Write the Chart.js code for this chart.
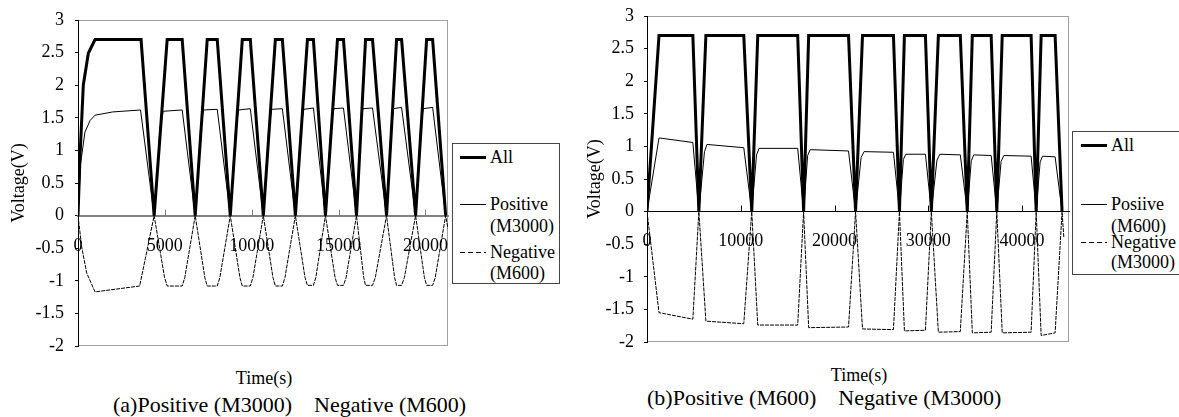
<!DOCTYPE html>
<html>
<head>
<meta charset="utf-8">
<script src="https://cdn.jsdelivr.net/npm/chart.js@4.4.0/dist/chart.umd.min.js"></script>
<style>
  body { margin: 0; background: #fff; width: 1179px; height: 417px; position: relative; overflow: hidden;
         font-family: 'Liberation Serif', 'Times New Roman', serif; color: #000; }
  canvas { position: absolute; top: 0; }
  .txt { position: absolute; white-space: pre; line-height: 20px; font-size: 18px; }
  .legend { position: absolute; border: 1px solid #444; background: #fff; box-sizing: border-box; }
  .sample { position: absolute; width: 26px; background: #000; }
  .dash { position: absolute; width: 26px; height: 1px;
          background: repeating-linear-gradient(to right, #000 0 5px, transparent 5px 8px); }
  .cap { position: absolute; white-space: pre; font-size: 22px; line-height: 24px; }
</style>
</head>
<body>
<canvas id="chartA" width="460" height="360" style="left:0"></canvas>
<canvas id="chartB" width="500" height="360" style="left:580px"></canvas>

<div class="legend" style="left:452px;top:143px;width:108px;height:141px">
  <div class="sample" style="left:7px;top:12px;height:3px"></div>
  <div class="txt" style="left:37px;top:3px">All</div>
  <div class="sample" style="left:7px;top:60px;height:1px"></div>
  <div class="txt" style="left:37px;top:50px">Positive</div>
  <div class="txt" style="left:37px;top:72px">(M3000)</div>
  <div class="dash" style="left:7px;top:108px"></div>
  <div class="txt" style="left:37px;top:98px">Negative</div>
  <div class="txt" style="left:37px;top:119px">(M600)</div>
</div>

<div class="legend" style="left:1072px;top:131px;width:120px;height:144px">
  <div class="sample" style="left:8px;top:12px;height:3px"></div>
  <div class="txt" style="left:38px;top:3px">All</div>
  <div class="sample" style="left:8px;top:72px;height:1px"></div>
  <div class="txt" style="left:38px;top:62px">Posiive</div>
  <div class="txt" style="left:38px;top:84px">(M600)</div>
  <div class="dash" style="left:8px;top:110px"></div>
  <div class="txt" style="left:38px;top:100px">Negative</div>
  <div class="txt" style="left:38px;top:120px">(M3000)</div>
</div>

<div class="txt" style="left:264px;top:378px;transform:translate(-50%,-50%)">Time(s)</div>
<div class="txt" style="left:859px;top:375px;transform:translate(-50%,-50%)">Time(s)</div>
<div class="cap" style="left:113px;top:393px">(a)Positive (M3000)    Negative (M600)</div>
<div class="cap" style="left:647px;top:386px">(b)Positive (M600)    Negative (M3000)</div>

<script>
// ---- panel (a): Positive (M3000) / Negative (M600) ----
const timeAllA = [0, 115, 305, 595, 980, 3630, 4383, 5133, 5998, 6747, 7439, 8016, 8766, 9458, 9919, 10669,
  11361, 11765, 12514, 13207, 13552, 14245, 14937, 15283, 16032, 16552, 16955, 17762, 18339, 18628, 19435,
  20069, 20415, 21165];
const allA = [0, 0.9, 2.0, 2.49, 2.7, 2.7, 0, 2.7, 2.7, 0, 2.7, 2.7, 0, 2.7, 2.7, 0,
  2.7, 2.7, 0, 2.7, 2.7, 0, 2.7, 2.7, 0, 2.7, 2.7, 0, 2.7, 2.7, 0,
  2.7, 2.7, 0];

const timePosA = [0, 150, 400, 700, 980, 2000, 3600, 4383, 4720, 4908, 5998, 6747, 7058, 7231, 8016, 8766,
  9077, 9250, 9919, 10669, 10980, 11153, 11765, 12514, 12826, 12999, 13552, 14245, 14556, 14729, 15283, 16032,
  16266, 16396, 16955, 17762, 18022, 18166, 18628, 19435, 19720, 19879, 20415, 21165];
const posA = [0, 0.8, 1.28, 1.46, 1.54, 1.59, 1.62, 0, 1.35, 1.6, 1.62, 0, 1.35, 1.62, 1.63, 0,
  1.35, 1.62, 1.64, 0, 1.35, 1.63, 1.64, 0, 1.35, 1.63, 1.65, 0, 1.35, 1.64, 1.65, 0,
  1.35, 1.64, 1.65, 0, 1.35, 1.64, 1.66, 0, 1.35, 1.64, 1.66, 0];

const timeNegA = [0, 212, 500, 980, 3550, 4383, 4983, 5133, 5998, 6148, 6747, 7301, 7439, 8016, 8166, 8766,
  9320, 9458, 9919, 10069, 10669, 11223, 11361, 11765, 11915, 12514, 13068, 13207, 13552, 13691, 14245,
  14799, 14937, 15283, 15433, 16032, 16448, 16552, 16955, 17116, 17762, 18224, 18339, 18628, 18789, 19435,
  19942, 20069, 20415, 20565, 21165, 21300];
const negA = [0, -0.48, -0.88, -1.17, -1.08, 0, -0.95, -1.08, -1.08, -0.95, 0, -0.95, -1.08, -1.08, -0.95, 0,
  -0.95, -1.08, -1.08, -0.95, 0, -0.95, -1.08, -1.08, -0.95, 0, -0.95, -1.07, -1.07, -0.95, 0,
  -0.95, -1.07, -1.07, -0.95, 0, -0.95, -1.07, -1.07, -0.95, 0, -0.95, -1.07, -1.07, -0.95, 0,
  -0.95, -1.07, -1.07, -0.95, 0, -0.2];

// ---- panel (b): Positive (M600) / Negative (M3000) ----
const timeAllB = [0, 1280, 4890, 5530, 6280, 10320, 11170, 11810, 16070, 16700, 17240, 21490, 22240, 22980,
  26280, 26920, 27450, 29690, 30320, 31070, 33410, 34150, 34690, 36700, 37300, 37880, 40960, 41500, 42030,
  43520, 44260];
const allB = [0, 2.7, 2.7, 0, 2.7, 2.7, 0, 2.7, 2.7, 0, 2.7, 2.7, 0, 2.7,
  2.7, 0, 2.7, 2.7, 0, 2.7, 2.7, 0, 2.7, 2.7, 0, 2.7, 2.7, 0, 2.7,
  2.7, 0];

const timePosB = [0, 1280, 4890, 5530, 6130, 6400, 10320, 11170, 11680, 11950, 16070, 16700, 17130, 17400,
  21490, 22240, 22830, 23150, 26280, 26920, 27340, 27600, 29690, 30320, 30920, 31230, 33410, 34150, 34580,
  34850, 36700, 37300, 37760, 38050, 40960, 41500, 41920, 42180, 43520, 44260];
const posB = [0, 1.13, 1.06, 0, 0.92, 1.03, 0.98, 0, 0.87, 0.97, 0.97, 0, 0.86, 0.95,
  0.93, 0, 0.83, 0.92, 0.91, 0, 0.8, 0.88, 0.88, 0, 0.79, 0.88, 0.87, 0, 0.78,
  0.87, 0.86, 0, 0.77, 0.86, 0.85, 0, 0.76, 0.85, 0.84, 0];

const timeNegB = [0, 1280, 4890, 5530, 6280, 10320, 11170, 11810, 16070, 16700, 17240, 21490, 22240, 22980,
  26280, 26920, 27450, 29690, 30320, 31070, 33410, 34150, 34690, 36700, 37300, 37880, 40960, 41500, 42030,
  43520, 44260, 44450];
const negB = [0, -1.55, -1.65, 0, -1.68, -1.72, 0, -1.74, -1.74, 0, -1.78, -1.77, 0, -1.8,
  -1.81, 0, -1.83, -1.82, 0, -1.85, -1.84, 0, -1.86, -1.85, 0, -1.86, -1.85, 0, -1.9,
  -1.86, 0, -0.4];

// tick labels
const timeTicksA = [0, 5000, 10000, 15000, 20000];
const timeTicksB = [0, 10000, 20000, 30000, 40000];
const voltTicks = [-2, -1.5, -1, -0.5, 0, 0.5, 1, 1.5, 2, 2.5, 3];

const seriesNames = ['All', 'Positive', 'Negative'];
const serif = "'Liberation Serif', 'Times New Roman', serif";

function pts(ts, vs) {
  return ts.map((t, i) => ({ x: t, y: vs[i] }));
}

// gray plot frame + small upward x tick marks on the zero line
const frameTicks = {
  id: 'frameTicks',
  beforeDraw(chart) {
    const { ctx, chartArea: a } = chart;
    ctx.save();
    ctx.strokeStyle = '#a0a0a0';
    ctx.lineWidth = 1;
    ctx.strokeRect(a.left + 0.5, a.top + 0.5, a.right - a.left - 1, a.bottom - a.top - 1);
    ctx.restore();
  },
  beforeDatasetsDraw(chart, args, opts) {
    const { ctx } = chart;
    const xs = chart.scales.x;
    const y0 = chart.scales.y.getPixelForValue(0);
    ctx.save();
    ctx.strokeStyle = opts.color;
    ctx.lineWidth = 1;
    ctx.beginPath();
    xs.ticks.forEach(t => {
      if (t.value === 0) return;
      const px = Math.round(xs.getPixelForValue(t.value)) + 0.5;
      ctx.moveTo(px, y0);
      ctx.lineTo(px, y0 - 6);
    });
    ctx.stroke();
    ctx.restore();
  }
};

function makeChart(id, d, o) {
  return new Chart(document.getElementById(id), {
    type: 'line',
    data: {
      datasets: [
        { label: seriesNames[2], data: d.neg, borderColor: '#000', borderWidth: 1, borderDash: [4, 1] },
        { label: seriesNames[1], data: d.pos, borderColor: '#000', borderWidth: 1 },
        { label: seriesNames[0], data: d.all, borderColor: '#000', borderWidth: 3 }
      ]
    },
    options: {
      responsive: false,
      animation: false,
      devicePixelRatio: 1,
      elements: { point: { radius: 0 }, line: { tension: 0, fill: false } },
      layout: { padding: { top: o.top, right: o.right, left: 0, bottom: o.bottom } },
      plugins: {
        legend: { display: false },
        tooltip: { enabled: false },
        frameTicks: { color: o.zeroColor }
      },
      scales: {
        x: {
          type: 'linear',
          position: { y: 0 },
          min: 0,
          max: o.xMax,
          afterBuildTicks: s => { s.ticks = o.xTicks.map(v => ({ value: v })); },
          afterFit: s => { s.paddingLeft = 0; s.paddingRight = 0; },
          ticks: {
            autoSkip: false,
            padding: o.xPad,
            color: '#000',
            maxRotation: 0,
            font: { family: serif, size: 18 },
            callback: v => String(v)
          },
          grid: { display: false },
          border: { display: true, color: o.zeroColor, width: o.zeroWidth }
        },
        y: {
          min: voltTicks[0],
          max: voltTicks[voltTicks.length - 1],
          afterBuildTicks: s => { s.ticks = voltTicks.map(v => ({ value: v })); },
          afterFit: s => { s.width = o.yW; s.paddingTop = 0; s.paddingBottom = 0; },
          ticks: {
            autoSkip: false,
            padding: o.yPad,
            color: '#000',
            font: { family: serif, size: 18 },
            callback: v => String(v)
          },
          grid: { drawOnChartArea: false, color: '#000', tickLength: 3 },
          border: { display: true, color: '#000', width: 1 },
          title: {
            display: true,
            text: 'Voltage(V)',
            color: '#000',
            font: { family: serif, size: 18 },
            padding: { top: o.titlePad, bottom: 0 }
          }
        }
      }
    },
    plugins: [frameTicks]
  });
}

function drawAll() {
  makeChart('chartA',
    { all: pts(timeAllA, allA), pos: pts(timePosA, posA), neg: pts(timeNegA, negA) },
    { top: 20, right: 12, bottom: 14, yW: 78, xMax: 21300, xTicks: timeTicksA, xPad: 12, yPad: 11,
      titlePad: 8, zeroColor: '#808080', zeroWidth: 2 });

  makeChart('chartB',
    { all: pts(timeAllB, allB), pos: pts(timePosB, posB), neg: pts(timeNegB, negB) },
    { top: 16, right: 11, bottom: 18, yW: 67, xMax: 45000, xTicks: timeTicksB, xPad: 11, yPad: 10,
      titlePad: 4, zeroColor: '#000', zeroWidth: 1 });
}

document.fonts.load("18px 'Liberation Serif'").then(drawAll, drawAll);
</script>
</body>
</html>
